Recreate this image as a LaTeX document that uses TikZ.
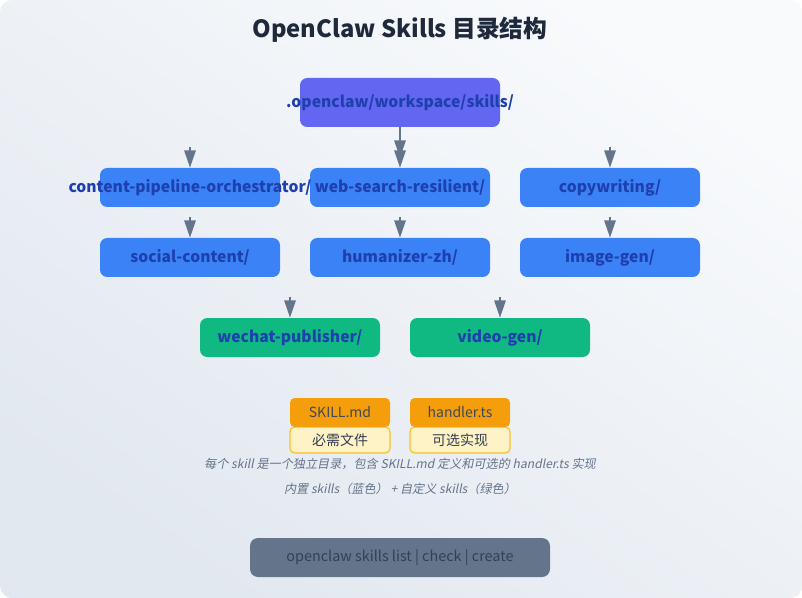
\documentclass[tikz,border=0pt]{standalone}
\usepackage{fontspec}
\setmainfont{Noto Sans CJK SC}
\newfontfamily\capfont{Noto Sans CJK SC}[FakeSlant=0.2]
\usetikzlibrary{arrows.meta}
\definecolor{bgA}{HTML}{F8FAFC}
\definecolor{bgB}{HTML}{E2E8F0}
\definecolor{rootc}{HTML}{6366F1}
\definecolor{bluec}{HTML}{3B82F6}
\definecolor{greenc}{HTML}{10B981}
\definecolor{labc}{HTML}{1E40AF}
\definecolor{arrc}{HTML}{64748B}
\definecolor{titc}{HTML}{1E293B}
\definecolor{orc}{HTML}{F59E0B}
\definecolor{yelc}{HTML}{FEF3C7}
\definecolor{yelb}{HTML}{FBBF24}
\definecolor{capc}{HTML}{64748B}
\definecolor{cmdc}{HTML}{334155}
\tikzset{
  boxlab/.style={font=\fontsize{11.75pt}{13pt}\selectfont\bfseries, text=labc, inner sep=0pt},
  box/.style={rounded corners=5.5pt, minimum width=135pt, minimum height=29.25pt, inner sep=0pt},
  bluebox/.style={box, fill=bluec},
  greenbox/.style={box, fill=greenc},
  arr/.style={draw=arrc, line width=1.5pt, -{Triangle[width=8.5pt,length=13pt]}},
  filebox/.style={rounded corners=3.5pt, fill=orc, minimum width=75pt, minimum height=21.75pt, inner sep=0pt,
    font=\fontsize{10.5pt}{12pt}\selectfont, text=titc!85},
  notebox/.style={rounded corners=3.5pt, fill=yelc, draw=yelb, line width=0.9pt, minimum width=75pt, minimum height=19.5pt, inner sep=0pt,
    font=\fontsize{10.5pt}{12pt}\selectfont, text=titc!90},
  captext/.style={font=\capfont\fontsize{9.1pt}{10pt}\selectfont, text=capc, inner sep=0pt},
}
\begin{document}
\begin{tikzpicture}[x=0.75pt,y=-0.75pt]
\useasboundingbox (0,0) rectangle (802,598);
\fill[white] (0,0) rectangle (802,598);
\shade[rounded corners=9pt, left color=bgA, right color=bgB, shading angle=-35] (0,0) rectangle (802,598);

\node[font=\fontsize{17.8pt}{20pt}\selectfont\bfseries, text=titc] (title) at (400,30) {OpenClaw Skills 目录结构};

\node[box, fill=rootc, minimum width=150pt, minimum height=36.75pt] (root) at (400,102.5) {};
\node[boxlab] (rootl) at (root.center) {.openclaw/workspace/skills/};

\node[bluebox] (cpo) at (190,187.5) {};
\node[bluebox] (wsr) at (400,187.5) {};
\node[bluebox] (cw) at (610,187.5) {};
\node[bluebox] (sc) at (190,257.5) {};
\node[bluebox] (hz) at (400,257.5) {};
\node[bluebox] (ig) at (610,257.5) {};
\node[greenbox] (wp) at (290,337.5) {};
\node[greenbox] (vg) at (500,337.5) {};

\node[boxlab] (cpol) at (cpo.center) {content-pipeline-orchestrator/};
\node[boxlab] (wsrl) at (wsr.center) {web-search-resilient/};
\node[boxlab] (cwl) at (cw.center) {copywriting/};
\node[boxlab] (scl) at (sc.center) {social-content/};
\node[boxlab] (hzl) at (hz.center) {humanizer-zh/};
\node[boxlab] (igl) at (ig.center) {image-gen/};
\node[boxlab] (wpl) at (wp.center) {wechat-publisher/};
\node[boxlab] (vgl) at (vg.center) {video-gen/};

\coordinate (a1) at (190,147);
\coordinate (a2) at (400,147);
\coordinate (a3) at (610,147);
\coordinate (b1) at (190,217);
\coordinate (b2) at (400,217);
\coordinate (b3) at (610,217);
\coordinate (c1) at (290,297);
\coordinate (c2) at (500,297);

\draw[arr, shorten >=7.5pt] (root.south) -- (wsr.north);
\draw[arr] (a1) -- (cpo.north);
\draw[arr] (a2) -- (wsr.north);
\draw[arr] (a3) -- (cw.north);
\draw[arr] (b1) -- (sc.north);
\draw[arr] (b2) -- (hz.north);
\draw[arr] (b3) -- (ig.north);
\draw[arr] (c1) -- (wp.north);
\draw[arr] (c2) -- (vg.north);

\node[notebox] (n1) at (340,440) {必需文件};
\node[notebox] (n2) at (460,440) {可选实现};
\node[filebox] (f1) at (340,412.5) {SKILL.md};
\node[filebox] (f2) at (460,412.5) {handler.ts};

\node[captext] (cap1) at (400,464) {每个 skill 是一个独立目录，包含 SKILL.md 定义和可选的 handler.ts 实现};
\node[captext] (cap2) at (400,489) {内置 skills（蓝色） + 自定义 skills（绿色）};

\node[rounded corners=6pt, fill=arrc, minimum width=225pt, minimum height=29.25pt, inner sep=0pt,
  font=\fontsize{10.8pt}{12pt}\selectfont, text=cmdc] (cmd) at (400,557.5) {openclaw skills list | check | create};
\end{tikzpicture}
\end{document}
